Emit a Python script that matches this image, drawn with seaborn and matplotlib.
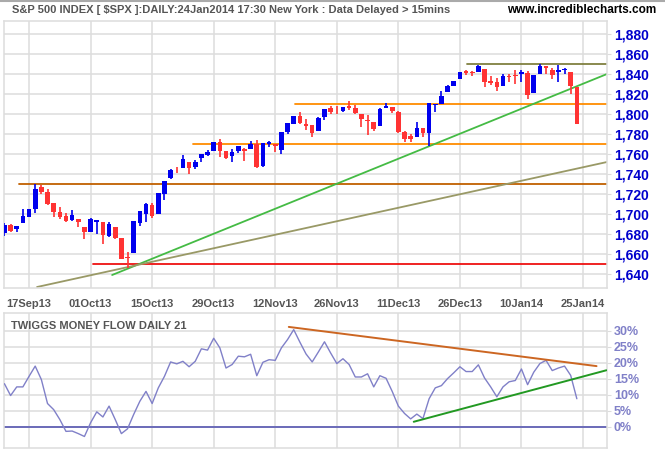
import numpy as np
import pandas as pd
import matplotlib
matplotlib.use("Agg")
import matplotlib.pyplot as plt
import seaborn as sns
from matplotlib.ticker import FuncFormatter

# ── Data ───────────────────────────────────────────
holidays = ["2013-11-28", "2013-12-25", "2014-01-01", "2014-01-20"]
dates = [d for d in pd.bdate_range("2013-09-11", "2014-01-24")
         if d.strftime("%Y-%m-%d") not in holidays]

opens = [1681.3, 1689.0, 1685.3, 1691.3, 1697.0, 1705.0, 1727.0, 1722.0, 1711.0, 1702.0,
         1697.7, 1693.7, 1695.0, 1687.0, 1682.3, 1692.3, 1691.7, 1678.0, 1687.0, 1676.0,
         1657.0, 1661.3, 1691.3, 1700.3, 1709.0, 1700.3, 1720.3, 1736.3, 1745.0, 1746.3,
         1751.7, 1747.0, 1756.3, 1759.0, 1763.0, 1771.7, 1763.0, 1758.3, 1763.0, 1765.0,
         1765.0, 1770.0, 1748.0, 1769.7, 1769.7, 1764.3, 1781.7, 1790.3, 1797.7, 1790.0,
         1789.0, 1783.3, 1797.3, 1806.3, 1803.3, 1803.3, 1807.7, 1805.7, 1799.7, 1794.0,
         1791.7, 1788.0, 1806.3, 1807.0, 1801.7, 1781.7, 1778.0, 1777.3, 1786.0, 1781.3,
         1809.3, 1810.3, 1822.3, 1828.3, 1835.3, 1843.3, 1841.3, 1842.3, 1845.0, 1833.0,
         1832.0, 1828.3, 1837.8, 1839.0, 1840.3, 1841.3, 1821.3, 1840.3, 1848.0, 1844.3,
         1842.3, 1843.7, 1842.0, 1827.3]
highs = [1690.7, 1690.0, 1687.9, 1705.0, 1705.0, 1729.9, 1729.0, 1725.0, 1711.0, 1707.0,
         1701.0, 1704.0, 1695.0, 1687.0, 1696.3, 1694.0, 1691.7, 1692.3, 1687.0, 1676.0,
         1662.3, 1692.6, 1703.2, 1711.0, 1711.0, 1721.5, 1733.2, 1745.0, 1747.3, 1759.0,
         1751.7, 1753.7, 1759.8, 1764.0, 1772.0, 1775.0, 1763.0, 1764.7, 1768.0, 1766.3,
         1773.0, 1774.0, 1770.6, 1773.0, 1769.7, 1782.0, 1791.0, 1798.2, 1801.7, 1794.7,
         1789.0, 1797.0, 1804.8, 1808.3, 1808.3, 1807.2, 1813.5, 1809.0, 1799.7, 1799.0,
         1791.7, 1806.3, 1810.7, 1807.0, 1803.0, 1783.0, 1780.0, 1792.3, 1786.0, 1810.7,
         1810.0, 1823.3, 1828.7, 1833.3, 1842.0, 1844.3, 1842.7, 1849.0, 1845.0, 1837.7,
         1836.3, 1839.7, 1839.7, 1843.7, 1843.7, 1843.0, 1839.0, 1849.7, 1848.0, 1845.7,
         1849.0, 1846.3, 1842.0, 1827.3]
lows = [1678.3, 1682.3, 1682.3, 1691.0, 1697.0, 1700.7, 1720.3, 1709.0, 1697.3, 1695.0,
        1692.3, 1693.0, 1687.0, 1675.3, 1682.3, 1680.3, 1670.3, 1677.3, 1674.7, 1655.5,
        1646.5, 1661.0, 1688.3, 1692.3, 1696.3, 1700.3, 1714.3, 1735.3, 1741.3, 1746.3,
        1740.3, 1745.3, 1752.3, 1758.3, 1763.0, 1757.0, 1755.0, 1752.3, 1761.3, 1752.7,
        1765.0, 1746.0, 1747.0, 1767.0, 1762.3, 1760.3, 1780.3, 1790.3, 1790.3, 1783.7,
        1777.3, 1783.3, 1794.0, 1800.3, 1800.3, 1802.3, 1804.0, 1799.7, 1787.0, 1779.1,
        1783.3, 1788.0, 1806.3, 1801.3, 1781.0, 1772.0, 1772.0, 1777.3, 1777.3, 1768.0,
        1801.7, 1810.3, 1822.3, 1828.3, 1835.3, 1839.0, 1838.3, 1842.3, 1827.3, 1829.0,
        1823.3, 1828.3, 1831.7, 1830.3, 1832.3, 1815.0, 1821.3, 1840.3, 1840.3, 1835.0,
        1832.3, 1840.3, 1820.3, 1790.0]
closes = [1689.1, 1683.4, 1688.0, 1697.6, 1704.8, 1725.5, 1722.3, 1709.9, 1701.8, 1697.4,
          1692.8, 1698.7, 1691.8, 1681.6, 1695.0, 1693.9, 1678.7, 1690.5, 1676.1, 1655.5,
          1656.4, 1692.6, 1703.2, 1710.1, 1698.1, 1721.5, 1733.2, 1744.5, 1744.7, 1754.7,
          1746.4, 1752.1, 1759.8, 1762.1, 1772.0, 1763.3, 1756.5, 1761.6, 1767.9, 1763.0,
          1770.5, 1747.2, 1770.6, 1771.9, 1767.7, 1782.0, 1790.6, 1798.2, 1791.5, 1787.9,
          1781.4, 1795.9, 1804.8, 1802.5, 1802.8, 1807.2, 1805.8, 1800.9, 1795.2, 1792.8,
          1785.0, 1805.1, 1808.4, 1802.6, 1782.2, 1775.5, 1775.3, 1786.5, 1781.0, 1810.7,
          1809.6, 1818.3, 1828.0, 1833.3, 1842.0, 1841.4, 1841.1, 1848.4, 1832.0, 1831.4,
          1826.8, 1837.9, 1837.5, 1838.1, 1842.4, 1819.2, 1838.9, 1848.4, 1845.9, 1838.7,
          1843.8, 1844.9, 1828.5, 1790.3]

tmf = [13.5, 9.8, 12.5, 12.5, 15.8, 19.0, 14.8, 7.3, 5.4, 2.3,
       -1.4, -1.3, -2.1, -3.0, 1.3, 4.7, 3.1, 6.5, 2.3, -2.1,
       -0.6, 3.9, 8.0, 11.1, 7.3, 12.2, 15.8, 20.3, 19.7, 20.5,
       18.8, 20.5, 24.4, 24.0, 27.7, 24.7, 18.4, 19.5, 22.1, 21.9,
       22.7, 16.0, 20.2, 21.0, 20.8, 24.7, 27.3, 30.4, 26.5, 22.8,
       20.3, 23.4, 26.6, 23.1, 19.8, 21.3, 19.5, 15.6, 15.6, 16.6,
       12.5, 16.0, 15.2, 11.1, 6.5, 4.2, 2.5, 4.0, 2.6, 8.8,
       12.2, 12.9, 15.1, 16.9, 18.8, 17.3, 17.3, 19.4, 15.3, 12.5,
       9.4, 12.5, 14.1, 14.5, 18.1, 13.2, 17.1, 19.8, 20.8, 17.6,
       18.4, 19.0, 16.1, 8.8]

tick_labels = ["17Sep13", "01Oct13", "15Oct13", "29Oct13", "12Nov13",
               "26Nov13", "11Dec13", "26Dec13", "10Jan14", "25Jan14"]

# support / resistance levels drawn on the price chart
levels = [1650, 1730, 1770, 1810, 1850]
level_start = [14.4, 2.4, 30.6, 47.2, 75.1]
level_colors = ["#EE1111", "#C06000", "#FF8C00", "#FF8C00", "#808040"]

# trend lines (x in trading days, y in price / percent)
price_trend_x = [[17.5, 97.9], [5.3, 97.9]]
price_trend_y = [[1639, 1840], [1627, 1752]]
price_trend_colors = ["#44BB44", "#999966"]
tmf_trend_x = [[46.2, 96.2], [66.5, 97.8]]
tmf_trend_y = [[31.25, 19.0], [1.6, 17.7]]
tmf_trend_colors = ["#CC6622", "#229922"]

# ── Style ──────────────────────────────────────────
sns.set_style("white")
plt.rcParams["font.family"] = ["Liberation Sans", "DejaVu Sans"]
GRID = "#DDDDDD"
GRAY_TXT = "#555555"

fig = plt.figure(figsize=(6.65, 4.5), dpi=100)
ax = fig.add_axes([4 / 665, 1 - 288 / 450, 603 / 665, 267 / 450])
ax2 = fig.add_axes([4 / 665, 1 - 448 / 450, 603 / 665, 135 / 450])

df = pd.DataFrame({"date": dates, "open": opens, "high": highs,
                   "low": lows, "close": closes, "tmf": tmf})
df["i"] = np.arange(len(df))
up = df["close"] >= df["open"]
col = np.where(up, "#0000EE", "#FF3333")

# ── Price panel ────────────────────────────────────
ax.vlines(df["i"], df["low"], df["high"], colors=col, linewidth=1.2, zorder=3)
body_lo = np.minimum(df["open"], df["close"])
body_h = np.maximum(np.abs(df["close"] - df["open"]), 0.6)
ax.bar(df["i"], body_h, bottom=body_lo, width=0.75, color=col, linewidth=0, zorder=4)

for lv, st, c in zip(levels, level_start, level_colors):
    ax.plot([st, 97.9], [lv, lv], color=c, linewidth=1.3, zorder=2)
for xs, ys, c in zip(price_trend_x, price_trend_y, price_trend_colors):
    sns.lineplot(x=xs, y=ys, ax=ax, color=c, linewidth=1.3, zorder=2)

tick_pos = list(range(4, 4 + 10 * len(tick_labels), 10))
for a in (ax, ax2):
    a.set_xlim(-0.07, 97.9)
    a.set_xticks(tick_pos)
    a.grid(True, color=GRID, linewidth=1.1)
    a.set_axisbelow(True)
    for s in a.spines.values():
        s.set_color(GRID)
        s.set_linewidth(1.1)
    a.yaxis.tick_right()
    a.tick_params(axis="y", length=3, color=GRID, pad=2)
    a.tick_params(axis="x", length=4, color=GRID)
    a.set_xlabel("")
    a.set_ylabel("")

ax.set_ylim(1626, 1893)
ax.set_yticks(range(1640, 1881, 20))
ax.yaxis.set_major_formatter(FuncFormatter(lambda v, p: f"{int(v):,}"))
for lab in ax.get_yticklabels():
    lab.set_color("#0000CC")
    lab.set_fontweight("bold")
    lab.set_fontsize(10)
ax.set_xticklabels(tick_labels, color=GRAY_TXT, fontweight="bold", fontsize=8)
ax.tick_params(axis="x", pad=4)

# ── Twiggs Money Flow panel ────────────────────────
sns.lineplot(x=df["i"], y=df["tmf"], ax=ax2, color="#8080C8", linewidth=1.0, zorder=3)
ax2.axhline(0, color="#6A6AB8", linewidth=1.4, zorder=2)
for xs, ys, c in zip(tmf_trend_x, tmf_trend_y, tmf_trend_colors):
    sns.lineplot(x=xs, y=ys, ax=ax2, color=c, linewidth=1.4, zorder=4)
ax2.set_ylim(-6.6, 35.6)
ax2.set_yticks(range(0, 31, 5))
ax2.yaxis.set_major_formatter(FuncFormatter(lambda v, p: f"{int(v)}%"))
for lab in ax2.get_yticklabels():
    lab.set_color("#8080C8")
    lab.set_fontweight("bold")
    lab.set_fontsize(9)
ax2.set_xticklabels([])
ax2.set_xlabel("")
ax2.set_ylabel("")
ax2.text(0.012, 0.94, "TWIGGS MONEY FLOW DAILY 21", transform=ax2.transAxes,
         ha="left", va="top", color=GRAY_TXT, fontweight="bold", fontsize=8)

# ── Header ─────────────────────────────────────────
fig.text(12 / 665, 1 - 10 / 450,
         "S&P 500 INDEX [ $SPX ]:DAILY:24Jan2014 17:30 New York : Data Delayed > 15mins",
         ha="left", va="center", color=GRAY_TXT, fontweight="bold", fontsize=8)
fig.text(656 / 665, 1 - 10 / 450, "www.incrediblecharts.com",
         ha="right", va="center", color="black", fontweight="bold", fontsize=8.5)
fig.add_artist(plt.Line2D([0, 1], [0.998, 0.998], color="#AAAAAA", linewidth=1.5))

fig.savefig("out.png", dpi=100)
